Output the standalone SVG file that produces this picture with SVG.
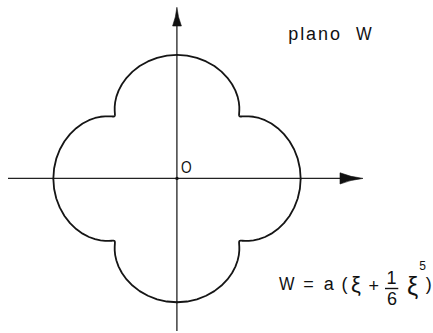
<svg xmlns="http://www.w3.org/2000/svg" xmlns:xlink="http://www.w3.org/1999/xlink" width="433" height="333" viewBox="0 0 433 333">
<style>
.ax{stroke:#222;stroke-width:1.3;fill:none}
.ah{fill:#111;stroke:#111;stroke-width:0.6;stroke-linejoin:round}
.cv{fill:none;stroke:#151515;stroke-width:0.017;stroke-linejoin:round;stroke-linecap:round}
.t{font-family:"Liberation Sans","DejaVu Sans",Arial,sans-serif;fill:#111}
</style>
<rect width="433" height="333" fill="#fff"/>
<g id="connectors">
<line class="ax" x1="8" y1="178.4" x2="350" y2="178.4"/>
<path class="ah" d="M340,172.8 Q351,177.2 363,178.4 Q351,179.6 340,184 Z"/>
<line class="ax" x1="176.9" y1="331" x2="176.9" y2="18"/>
<path class="ah" d="M172.6,26 Q176,17 176.9,7.3 Q177.8,17 181.4,26 Z"/>
<circle cx="177" cy="178.4" r="1.7" fill="#111"/>
</g>
<g id="curve" transform="translate(177,178.6) scale(106,-106)">
<path id="q" class="cv" d="M1.1667,0 L1.1596,0.0955 1.1389,0.1879 1.1055,0.2743 1.0615,0.3523 1.0091,0.4198 0.9511,0.4757 0.8904,0.5194 0.8302,0.5511 0.7732,0.5718 0.7217,0.5833 0.6777,0.5878 0.6424,0.5878 0.6162,0.5862 0.6064,0.5857 0.5988,0.5858 0.5931,0.5869 0.5893,0.5893 0.5869,0.5931 0.5858,0.5988 0.5857,0.6064 0.5862,0.6162 0.5878,0.6424 0.5878,0.6777 0.5833,0.7217 0.5718,0.7732 0.5511,0.8302 0.5194,0.8904 0.4757,0.9511 0.4198,1.0091 0.3523,1.0615 0.2743,1.1055 0.1879,1.1389 0.0955,1.1596 0,1.1667"/>
<use xlink:href="#q" href="#q" transform="rotate(90)"/>
<use xlink:href="#q" href="#q" transform="rotate(180)"/>
<use xlink:href="#q" href="#q" transform="rotate(270)"/>
</g>
<g id="labels">
<text class="t" x="181" y="173.3" font-size="17" textLength="10.7" lengthAdjust="spacingAndGlyphs">O</text>
<text class="t" x="288.3" y="40" font-size="18" letter-spacing="1.9">plano</text>
<text class="t" x="356" y="40" font-size="18" textLength="15.7" lengthAdjust="spacingAndGlyphs">W</text>
</g>
<g id="formula" font-size="18">
<text class="t" x="279" y="290" textLength="15.5" lengthAdjust="spacingAndGlyphs">W</text>
<text class="t" x="308.5" y="290" text-anchor="middle">=</text>
<text class="t" x="328.8" y="290" text-anchor="middle">a</text>
<text class="t" x="344.5" y="290" text-anchor="middle">(</text>
<text class="t" x="356" y="292" text-anchor="middle" font-size="22">ξ</text>
<text class="t" x="373.8" y="292" text-anchor="middle">+</text>
<text class="t" x="391.5" y="283.5" text-anchor="middle">1</text>
<line x1="385" y1="288.5" x2="398.3" y2="288.5" stroke="#111" stroke-width="1.4"/>
<text class="t" x="392" y="305" text-anchor="middle">6</text>
<text class="t" x="412.5" y="295" text-anchor="middle" font-size="25">ξ</text>
<text class="t" x="422.5" y="270" text-anchor="middle" font-size="12">5</text>
<text class="t" x="428.7" y="290" text-anchor="middle">)</text>
</g>
</svg>
